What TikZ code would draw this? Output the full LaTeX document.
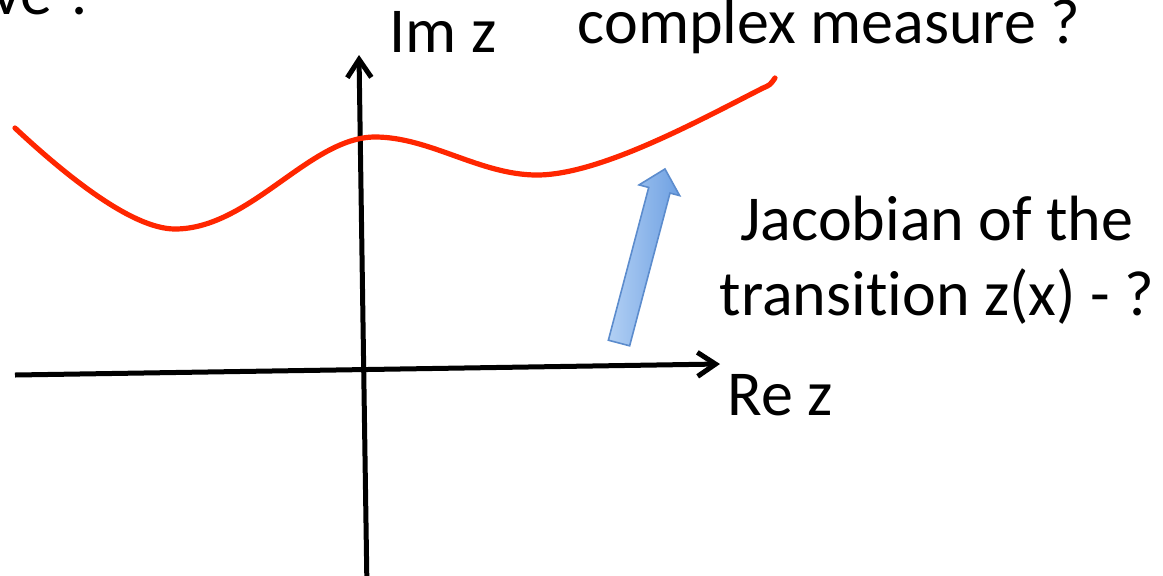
\documentclass[tikz,border=0pt]{standalone}
\usepackage{fontspec}
\setmainfont{Carlito}[Ligatures=NoCommon]
\usepackage{tikz}
\usepackage{xcolor}
\usetikzlibrary{arrows.meta}

\definecolor{kurverod}{RGB}{255,38,0}
\definecolor{pilkant}{RGB}{92,140,205}
\definecolor{pillys}{RGB}{178,208,244}
\definecolor{pilmork}{RGB}{110,160,226}

\begin{document}
\begin{tikzpicture}[x=0.5pt, y=-0.5pt,
    lbl/.style={inner sep=0pt, font=\fontsize{32}{37.5}\selectfont},
    akse/.style={line width=2.5pt, -{Straight Barb[length=9pt, width=12pt, line width=2.5pt]}}]
    \clip (0,0) rectangle (1163,575);

    % Akser
    \coordinate (xv) at (15,375);
    \coordinate (xh) at (720,364);
    \coordinate (yb) at (367,590);
    \coordinate (yt) at (359,55);
    \draw[akse] (xv) -- (xh);
    \draw[akse] (yb) -- (yt);

    % Kurve i det komplekse planet (bunn, topp, bunn, opp mot hoeyre)
    \draw[kurverod, line width=2.6pt, line cap=round]
      (15,128) .. controls (60,170) and (130,229) .. (175,229)
      .. controls (250,229) and (310,137) .. (375,137)
      .. controls (430,137) and (480,175) .. (537,175)
      .. controls (600,175) and (700,120) .. (763,88)
      .. controls (770,85) .. (775,78);

    % Blaa pil (Jacobian)
    \begin{scope}[shift={(619,343)}, rotate=75.2]
      \draw[pilkant, line width=0.8pt, left color=pillys, right color=pilmork]
        (0,-11) -- (158,-11) -- (158,-21) -- (180,0) -- (158,21) -- (158,11)
        -- (0,11) -- cycle;
    \end{scope}

    % Tekster
    \node[lbl, anchor=base east] (ve) at (97,14) {ve ?};
    \node[lbl, anchor=base west] (imz) at (389,52) {Im z};
    \node[lbl, anchor=base] (maal) at (829,43) {complex measure ?};
    \node[lbl, anchor=base west] (rez) at (727,415) {Re z};
    \node[lbl, anchor=base] (jac) at (937,240) {Jacobian of the};
    \node[lbl, anchor=base] (trans) at (937,315) {transition z(x) - ?};
\end{tikzpicture}
\end{document}
